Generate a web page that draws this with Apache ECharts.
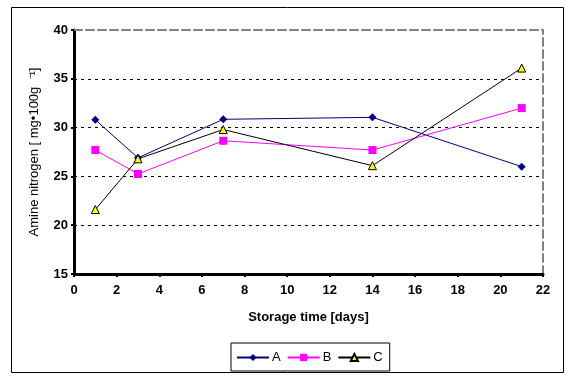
<!DOCTYPE html>
<html><head><meta charset="utf-8">
<script src="https://cdn.jsdelivr.net/npm/echarts@6/dist/echarts.min.js"></script>
<style>html,body{margin:0;padding:0;background:#fff}#c{width:571px;height:382px}</style>
</head><body><div id="c"></div>
<script>
const days = [1, 3, 7, 14, 21];
const seriesA = [30.8, 26.9, 30.85, 31.05, 26.0];
const seriesB = [27.7, 25.25, 28.65, 27.7, 32.0];
const seriesC = [21.6, 26.8, 29.8, 26.1, 36.1];
const xTitle = 'Storage time [days]';
const yTitle = 'Amine nitrogen [ mg\u2022100g  \u207B\u00B9]';

const font = 'Arial, "Liberation Sans", sans-serif';
const pair = (arr) => days.map((d, i) => [d, arr[i]]);

const chart = echarts.init(document.getElementById('c'), null, {renderer: 'canvas'});
chart.setOption({
  animation: false,
  backgroundColor: '#fff',
  textStyle: {fontFamily: font},
  grid: {left: 74, right: 28, top: 30, bottom: 108},
  graphic: [{
    type: 'rect', shape: {x: 11.5, y: 7.5, width: 552, height: 365},
    style: {fill: 'none', stroke: '#000', lineWidth: 1}, z: -1
  }],
  legend: {
    left: 231, top: 343,
    padding: [8, 7, 7, 5],
    itemGap: 6, itemWidth: 32, itemHeight: 9,
    borderColor: '#000', borderWidth: 1,
    textStyle: {fontSize: 13, color: '#000', fontFamily: font, padding: [0, 0, 0, -2]},
    data: ['A', 'B', 'C']
  },
  xAxis: [{
    type: 'value', min: 0, max: 22, interval: 2,
    name: xTitle, nameLocation: 'middle', nameGap: 37,
    nameTextStyle: {fontSize: 13, fontWeight: 'bold', color: '#000', fontFamily: font},
    axisLine: {lineStyle: {color: '#000', width: 3}},
    axisTick: {show: true, length: 3, lineStyle: {color: '#000', width: 2}},
    axisLabel: {fontSize: 13, fontWeight: 'bold', color: '#000', margin: 10, fontFamily: font},
    splitLine: {show: false}
  }, {
    type: 'value', position: 'top', min: 0, max: 22, interval: 2,
    axisLine: {show: true, onZero: false, lineStyle: {color: '#808080', width: 2, type: [8, 4]}},
    axisTick: {show: false}, axisLabel: {show: false}, splitLine: {show: false}
  }],
  yAxis: [{
    type: 'value', min: 15, max: 40, interval: 5,
    name: yTitle, nameLocation: 'middle', nameGap: 33, nameRotate: 90,
    nameTextStyle: {fontSize: 13, color: '#000', fontFamily: font},
    axisLine: {show: true, lineStyle: {color: '#000', width: 3}},
    axisTick: {show: true, length: 3, lineStyle: {color: '#000', width: 2}},
    axisLabel: {fontSize: 13, fontWeight: 'bold', color: '#000', margin: 6, fontFamily: font},
    splitLine: {show: true, lineStyle: {color: ['#000', '#000', '#000', '#000', '#000', 'rgba(0,0,0,0)'], width: 1, type: [3, 4]}}
  }, {
    type: 'value', position: 'right', min: 15, max: 40, interval: 5,
    axisLine: {show: true, onZero: false, lineStyle: {color: '#808080', width: 2, type: [8, 4]}},
    axisTick: {show: false}, axisLabel: {show: false}, splitLine: {show: false}
  }],
  series: [{
    name: 'A', type: 'line', data: pair(seriesA),
    symbol: 'diamond', symbolSize: 8,
    itemStyle: {color: '#000080'},
    lineStyle: {color: '#000080', width: 1}
  }, {
    name: 'B', type: 'line', data: pair(seriesB),
    symbol: 'rect', symbolSize: 8,
    itemStyle: {color: '#FF00FF'},
    lineStyle: {color: '#FF00FF', width: 1}
  }, {
    name: 'C', type: 'line', data: pair(seriesC),
    symbol: 'triangle', symbolSize: 8,
    itemStyle: {color: '#FFFF00', borderColor: '#000', borderWidth: 1},
    lineStyle: {color: '#000', width: 1}
  }]
});
</script></body></html>
